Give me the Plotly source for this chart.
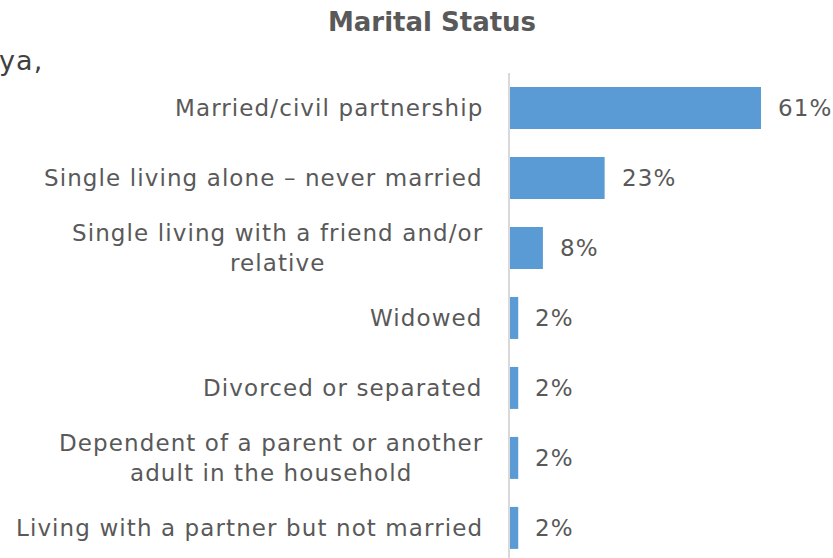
import plotly.graph_objects as go

# Survey: marital status of respondents (share, %)
categories = [
    "Married/civil partnership",
    "Single living alone – never married",
    "Single living with a friend and/or<br>relative",
    "Widowed",
    "Divorced or separated",
    "Dependent of a parent or another<br>adult in the household",
    "Living with a partner but not married",
]
shares = [61, 23, 8, 2, 2, 2, 2]
value_labels = [f"{v}%" for v in shares]

BAR_COLOR = "#5B9BD5"
TEXT_COLOR = "#595959"
FONT = "DejaVu Sans"
LABEL_SIZE = 23


def spaced(txt, spacing="1.1px"):
    # wrap each line in a letter-spaced span
    return "<br>".join(
        f'<span style="letter-spacing:{spacing}">{line}</span>' for line in txt.split("<br>")
    )


fig = go.Figure(
    go.Bar(
        x=shares,
        y=categories,
        orientation="h",
        marker=dict(color=BAR_COLOR, line=dict(width=0)),
        hoverinfo="skip",
    )
)

annotations = []
# category labels, right-aligned against the axis, centred line by line
for cat in categories:
    annotations.append(dict(
        x=0, y=cat, xref="x", yref="y", text=spaced(cat), showarrow=False,
        xanchor="right", yanchor="middle", align="center", xshift=-25,
        font=dict(family=FONT, size=LABEL_SIZE, color=TEXT_COLOR),
    ))
# value labels to the right of each bar
for cat, v, lab in zip(categories, shares, value_labels):
    annotations.append(dict(
        x=v, y=cat, xref="x", yref="y", text=spaced(lab), showarrow=False,
        xanchor="left", yanchor="middle", xshift=15,
        font=dict(family=FONT, size=LABEL_SIZE, color=TEXT_COLOR),
    ))
# stray text fragment at top left of the page
annotations.append(dict(
    x=-510 / 323, y=1, xref="paper", yref="paper", text=spaced("ya,"), showarrow=False,
    xanchor="left", yanchor="middle", yshift=13, xshift=-3,
    font=dict(family=FONT, size=27, color="#404040"),
))

fig.update_layout(
    width=833, height=558,
    margin=dict(l=510, r=0, t=73, b=0, pad=0),
    paper_bgcolor="white", plot_bgcolor="white",
    showlegend=False,
    bargap=0.4,
    title=dict(
        text="<b>Marital Status</b>", x=432 / 833, xanchor="center",
        y=1 - 22 / 558, yanchor="middle",
        font=dict(family=FONT, size=26, color=TEXT_COLOR),
    ),
    xaxis=dict(range=[0, 78.5], visible=False, fixedrange=True),
    yaxis=dict(
        type="category", range=[6.43, -0.5],
        showticklabels=False, ticks="", showgrid=False, zeroline=False,
        showline=True, linecolor="#D9D9D9", linewidth=2,
        fixedrange=True,
    ),
    annotations=annotations,
)

fig.write_html("out.html")
